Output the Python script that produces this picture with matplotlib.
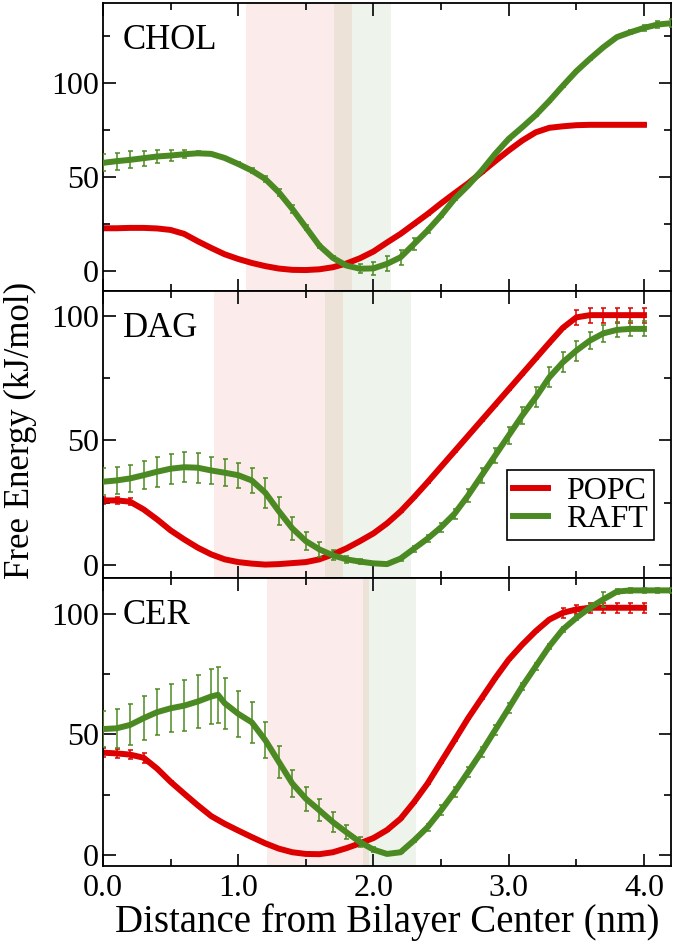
import matplotlib
matplotlib.use('Agg')
import matplotlib.pyplot as plt
from matplotlib.lines import Line2D
from matplotlib.ticker import MultipleLocator, FormatStrFormatter

plt.rcParams['font.family'] = 'Liberation Serif'
plt.rcParams['font.size'] = 23

# sampling grid of the profiles (nm)
dist = [0.0, 0.1, 0.2, 0.3, 0.4, 0.5, 0.6, 0.7, 0.8, 0.9,
        1.0, 1.1, 1.2, 1.3, 1.4, 1.5, 1.6, 1.7, 1.8, 1.9,
        2.0, 2.1, 2.2, 2.3, 2.4, 2.5, 2.6, 2.7, 2.8, 2.9,
        3.0, 3.1, 3.2, 3.3, 3.4, 3.5, 3.6, 3.7, 3.8, 3.9, 4.0]
dist_long = dist + [4.1, 4.2]
dist_cer_raft = dist[:9] + [0.85] + dist[9:] + [4.1, 4.2]

# CHOL
chol_popc = [22.6, 22.6, 22.8, 22.8, 22.5, 21.7, 19.6, 15.7, 12.1, 8.7,
             6.2, 4.1, 2.4, 1.1, 0.4, 0.3, 0.7, 1.8, 3.8, 6.6,
             10.2, 15.0, 19.6, 24.9, 30.2, 35.9, 41.3, 46.6, 52.5, 58.4,
             64.1, 69.4, 73.8, 76.2, 77.0, 77.6, 77.8, 77.8, 77.8, 77.8, 77.8]
chol_popc_err = [0.3] * 41
chol_raft = [57.5, 58.4, 59.1, 60.0, 60.9, 61.4, 62.1, 62.6, 62.3, 60.1,
             56.9, 53.4, 48.9, 41.8, 32.9, 23.1, 13.3, 6.8, 2.7, 1.0,
             1.2, 3.6, 7.1, 14.2, 21.4, 29.4, 38.3, 45.4, 53.4, 62.3,
             70.3, 76.5, 83.0, 90.5, 98.6, 106.4, 113.0, 119.2, 124.6, 127.2,
             129.5, 131.3, 132.0]
chol_raft_err = [4.5, 4.5, 4.5, 4.0, 3.5, 3.0, 2.0, 1.0, 0.5, 0.5,
                 0.8, 1.2, 1.8, 2.0, 2.0, 1.5, 1.0, 0.8, 1.0, 2.5,
                 3.5, 4.0, 4.0, 3.0, 1.5, 0.8, 0.5, 0.5, 0.5, 0.5,
                 0.5, 0.5, 0.5, 0.5, 0.5, 0.5, 0.5, 0.5, 0.5, 1.0,
                 1.5, 2.0, 2.0]

# DAG
dag_popc = [26.0, 26.0, 25.5, 22.4, 18.4, 14.0, 10.4, 7.1, 4.4, 2.4,
            1.3, 0.7, 0.3, 0.5, 0.9, 1.3, 2.4, 4.4, 6.8, 9.7,
            12.8, 16.8, 21.6, 27.3, 33.3, 39.5, 45.7, 51.9, 58.1, 64.3,
            70.5, 76.7, 82.9, 89.1, 95.1, 99.3, 100.2, 100.2, 100.2, 100.2, 100.2]
dag_popc_err = [1.5] * 3 + [0.3] * 32 + [3.0] * 6
dag_raft = [33.5, 34.0, 34.8, 36.1, 37.5, 38.7, 39.3, 39.1, 38.0, 37.1,
            36.1, 34.0, 29.1, 21.7, 14.8, 9.7, 6.4, 4.0, 2.4, 1.5,
            0.8, 0.5, 2.7, 6.7, 10.7, 15.3, 20.7, 28.0, 36.0, 44.0,
            52.0, 60.0, 67.3, 75.3, 81.3, 86.0, 90.0, 92.9, 94.3, 94.7, 94.7]
dag_raft_err = [5.5, 5.5, 5.5, 5.5, 6.0, 6.0, 6.0, 6.0, 5.5, 5.5,
                5.0, 5.0, 6.0, 5.5, 4.5, 3.5, 3.0, 2.0, 1.5, 1.0,
                0.5, 0.5, 0.8, 1.2, 1.5, 1.8, 2.0, 2.5, 3.0, 3.0,
                3.5, 3.5, 4.0, 4.0, 4.0, 4.0, 3.5, 3.5, 3.0, 3.0, 3.0]

# CER
cer_popc = [42.4, 42.1, 41.6, 40.3, 35.8, 30.3, 25.4, 20.6, 16.1, 12.9,
            10.1, 7.4, 4.8, 2.6, 1.1, 0.4, 0.3, 1.1, 2.8, 4.8,
            7.0, 10.3, 15.0, 21.9, 29.6, 38.6, 47.6, 56.7, 65.0, 73.3,
            81.0, 87.2, 92.8, 97.6, 100.4, 101.8, 102.5, 102.5, 102.5, 102.5, 102.5]
cer_popc_err = [2.0] * 4 + [0.3] * 30 + [2.0] * 7
cer_raft = [52.2, 52.5, 53.9, 56.7, 59.2, 60.8, 61.9, 63.6, 65.7, 66.4,
            62.9, 58.5, 55.0, 47.6, 38.6, 29.6, 23.3, 18.5, 13.6, 9.4,
            5.3, 2.2, 0.4, 1.1, 6.0, 11.5, 18.5, 26.1, 34.4, 42.8,
            51.8, 60.8, 69.9, 78.2, 86.5, 93.5, 98.3, 102.5, 106.0, 109.2,
            109.7, 109.7, 109.7, 109.7]
cer_raft_err = [7.5, 8.0, 8.5, 9.0, 9.5, 10.0, 10.5, 11.0, 11.5, 11.5,
                10.5, 9.5, 8.5, 7.5, 6.5, 5.5, 5.0, 4.5, 4.0, 3.0,
                2.0, 1.0, 0.5, 0.5, 0.8, 1.5, 2.0, 2.0, 2.0, 2.0,
                2.0, 2.0, 1.5, 1.5, 1.0, 1.0, 1.0, 1.5, 3.0, 1.0,
                1.0, 1.0, 1.0, 1.0]

names = ['CHOL', 'DAG', 'CER']
popc_x = [dist, dist, dist]
popc_y = [chol_popc, dag_popc, cer_popc]
popc_e = [chol_popc_err, dag_popc_err, cer_popc_err]
raft_x = [dist_long, dist, dist_cer_raft]
raft_y = [chol_raft, dag_raft, cer_raft]
raft_e = [chol_raft_err, dag_raft_err, cer_raft_err]
# preferred-depth bands (nm)
popc_band = [(1.06, 1.84), (0.82, 1.775), (1.215, 1.965)]
raft_band = [(1.705, 2.13), (1.645, 2.28), (1.92, 2.315)]
ylims = [(-10.7, 142.8), (-5.2, 110.0), (-4.6, 114.7)]

red = '#dd0000'
green = '#4b8a22'

fig = plt.figure(figsize=(6.74, 9.43), dpi=100)
left = 103 / 674.
width = (671 - 103) / 674.
top_px = 3.
bot_px = 866.
h = (bot_px - top_px) / 3.

for i in range(3):
    y0 = 1 - (top_px + (i + 1) * h) / 943.
    ax = fig.add_axes([left, y0, width, h / 943.])

    ax.axvspan(popc_band[i][0], popc_band[i][1], color=red, alpha=0.08, lw=0, zorder=0)
    ax.axvspan(raft_band[i][0], raft_band[i][1], color=green, alpha=0.09, lw=0, zorder=0)

    ax.errorbar(popc_x[i], popc_y[i], yerr=popc_e[i], color=red, lw=4.3,
                elinewidth=1.1, capsize=1.8, capthick=1.1, zorder=2)
    ax.errorbar(raft_x[i], raft_y[i], yerr=raft_e[i], color=green, lw=4.3,
                elinewidth=1.1, capsize=1.8, capthick=1.1, zorder=3)

    ax.set_xlim(0, 4.2)
    ax.set_ylim(*ylims[i])
    ax.xaxis.set_major_locator(MultipleLocator(1.0))
    ax.xaxis.set_minor_locator(MultipleLocator(0.5))
    ax.yaxis.set_major_locator(MultipleLocator(50))
    ax.yaxis.set_minor_locator(MultipleLocator(25))
    ax.xaxis.set_major_formatter(FormatStrFormatter('%.1f'))
    ax.tick_params(which='both', direction='in', top=True, right=True, width=1.2,
                   labelsize=23)
    ax.tick_params(which='major', length=9)
    ax.tick_params(which='minor', length=5)
    ax.tick_params(axis='y', which='major', pad=3)
    ax.tick_params(axis='x', which='major', pad=6)
    for sp in ax.spines.values():
        sp.set_linewidth(1.3)
    if i < 2:
        ax.tick_params(labelbottom=False)

    ax.text(0.035, 0.84, names[i], transform=ax.transAxes, fontsize=25,
            va='baseline', ha='left')

    if i == 1:
        handles = [Line2D([], [], color=red, lw=4.3),
                   Line2D([], [], color=green, lw=4.3)]
        leg = ax.legend(handles, ['POPC', 'RAFT'], loc='lower right',
                        bbox_to_anchor=(0.97, 0.132), borderaxespad=0,
                        fontsize=23, fancybox=False, handlelength=1.1,
                        handletextpad=0.55, borderpad=0.2, labelspacing=-0.05,
                        framealpha=1)
        leg.get_frame().set_edgecolor('black')
        leg.get_frame().set_linewidth(1.2)

    if i == 2:
        ax.set_xlabel('Distance from Bilayer Center (nm)', fontsize=28, labelpad=0)

fig.text(20 / 674., 1 - 430 / 943., 'Free Energy (kJ/mol)', rotation=90,
         fontsize=25, ha='center', va='center')

fig.savefig('out.png', dpi=100)
